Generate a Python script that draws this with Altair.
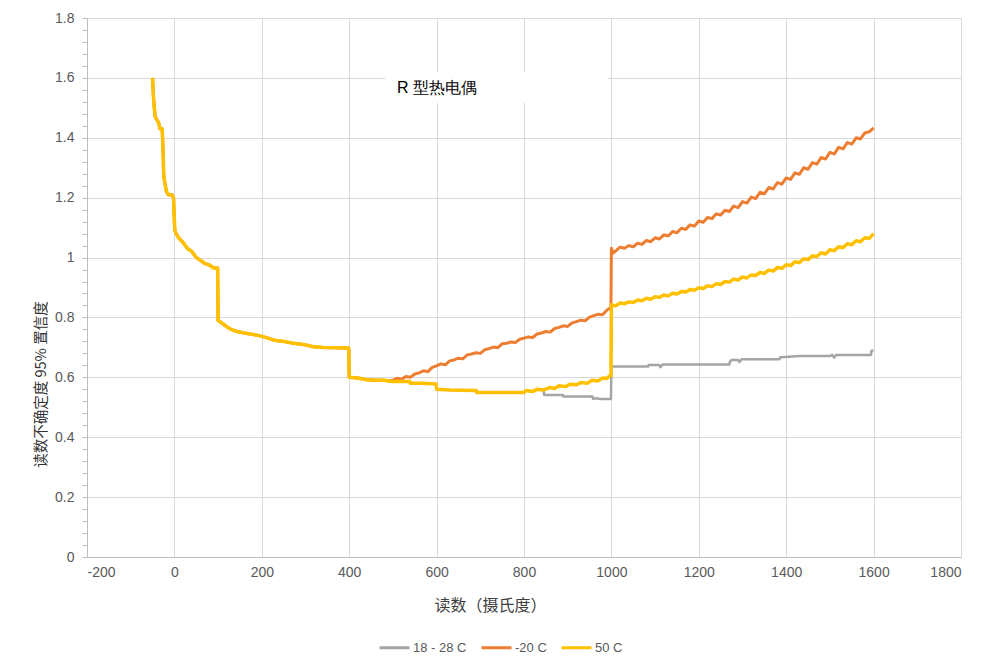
import altair as alt
import pandas as pd

# ---- data ----
# shared segment (all three series coincide)
common_x = [-50, -49, -48, -46, -44, -40, -36, -33, -28, -26, -25, -24, -22, -18, -14, -6, -2,
            0, 1, 4, 10, 20, 30, 40, 50, 60, 70, 80, 90, 99,
            100, 105, 120, 130, 143, 160, 188, 205, 226, 250, 272, 295, 318, 340, 370, 399,
            400, 420, 440, 460, 480, 490]
common_y = [1.60, 1.57, 1.54, 1.50, 1.47, 1.46, 1.45, 1.43, 1.43, 1.36, 1.30, 1.27, 1.25, 1.22, 1.21, 1.21, 1.20,
            1.12, 1.09, 1.08, 1.065, 1.05, 1.03, 1.02, 1.00, 0.99, 0.98, 0.975, 0.965, 0.965,
            0.79, 0.785, 0.769, 0.76, 0.753, 0.748, 0.741, 0.735, 0.725, 0.72, 0.714, 0.71, 0.702, 0.70, 0.699, 0.698,
            0.60, 0.598, 0.592, 0.59, 0.59, 0.588]

# segment shared by 18-28 C and 50 C
mid_x = [500, 520, 539, 540, 570, 599, 600, 630, 660, 691, 692, 720, 760, 800, 805, 820, 830, 845]
mid_y = [0.586, 0.586, 0.586, 0.58, 0.58, 0.578, 0.56, 0.558, 0.557, 0.556, 0.549, 0.549, 0.549, 0.549, 0.556, 0.553, 0.560, 0.558]

yellow_tail_x = [860, 870, 880, 895, 905, 920, 930, 945, 955, 970, 980, 990, 995, 999,
                 1000, 1010, 1020, 1030, 1040, 1050, 1060, 1070, 1080, 1090, 1100, 1110, 1120, 1130,
                 1140, 1150, 1160, 1170, 1180, 1190, 1200, 1210, 1220, 1230, 1240, 1250, 1260, 1270,
                 1280, 1290, 1300, 1310, 1320, 1330, 1340, 1350, 1360, 1370, 1380, 1390, 1400, 1410,
                 1420, 1430, 1440, 1450, 1460, 1470, 1480, 1490, 1500, 1510, 1520, 1530, 1540, 1550,
                 1560, 1570, 1580, 1590, 1600]
yellow_tail_y = [0.566, 0.563, 0.572, 0.569, 0.577, 0.575, 0.583, 0.580, 0.590, 0.588, 0.598, 0.596, 0.604, 0.605,
                 0.842, 0.839, 0.848, 0.846, 0.852, 0.850, 0.858, 0.856, 0.864, 0.861, 0.869, 0.867, 0.875, 0.872,
                 0.881, 0.878, 0.887, 0.885, 0.893, 0.891, 0.899, 0.897, 0.906, 0.903, 0.913, 0.910, 0.920, 0.918,
                 0.928, 0.925, 0.935, 0.932, 0.942, 0.940, 0.950, 0.947, 0.958, 0.955, 0.967, 0.964, 0.976, 0.973,
                 0.986, 0.983, 0.996, 0.993, 1.006, 1.003, 1.016, 1.012, 1.026, 1.023, 1.036, 1.033, 1.046, 1.043,
                 1.056, 1.053, 1.066, 1.064, 1.080]

gray_tail_x = [846, 880, 889, 890, 957, 958, 965, 975, 999,
               1000, 1084, 1085, 1110, 1112, 1118, 1270, 1271, 1275, 1290, 1293, 1298, 1385, 1386, 1390,
               1430, 1500, 1505, 1510, 1514, 1594, 1595, 1600]
gray_tail_y = [0.541, 0.541, 0.541, 0.536, 0.536, 0.528, 0.530, 0.528, 0.528,
               0.636, 0.636, 0.641, 0.641, 0.634, 0.643, 0.643, 0.652, 0.658, 0.658, 0.651, 0.660, 0.660, 0.667, 0.667,
               0.671, 0.671, 0.675, 0.666, 0.675, 0.675, 0.689, 0.690]

orange_tail_x = [500, 510, 520, 530, 540, 550, 560, 570, 580, 590, 600, 610, 620, 630, 640, 650, 660, 670,
                 680, 690, 700, 710, 720, 730, 740, 750, 760, 770, 780, 790, 800, 810, 820, 830, 840, 850,
                 860, 870, 880, 890, 900, 910, 920, 930, 940, 950, 960, 970, 980, 990, 999,
                 1000, 1004, 1020, 1030, 1040, 1050, 1060, 1070, 1080, 1090, 1100, 1110, 1120, 1130,
                 1140, 1150, 1160, 1170, 1180, 1190, 1200, 1210, 1220, 1230, 1240, 1250, 1260, 1270,
                 1280, 1290, 1300, 1310, 1320, 1330, 1340, 1350, 1360, 1370, 1380, 1390, 1400, 1410,
                 1420, 1430, 1440, 1450, 1460, 1470, 1480, 1490, 1500, 1510, 1520, 1530, 1540, 1550,
                 1560, 1570, 1580, 1590, 1600]
orange_tail_y = [0.590, 0.597, 0.594, 0.603, 0.600, 0.611, 0.615, 0.622, 0.619, 0.633, 0.638, 0.645, 0.642,
                 0.655, 0.658, 0.664, 0.662, 0.675, 0.678, 0.682, 0.680, 0.692, 0.696, 0.701, 0.699, 0.712,
                 0.714, 0.718, 0.716, 0.727, 0.731, 0.735, 0.733, 0.745, 0.748, 0.753, 0.751, 0.763, 0.767,
                 0.772, 0.770, 0.782, 0.786, 0.791, 0.789, 0.801, 0.806, 0.811, 0.809, 0.825, 0.833,
                 1.031, 1.015, 1.035, 1.031, 1.040, 1.036, 1.048, 1.044, 1.057, 1.053, 1.066, 1.062, 1.076, 1.072,
                 1.087, 1.083, 1.098, 1.094, 1.109, 1.105, 1.122, 1.118, 1.134, 1.130, 1.146, 1.142, 1.158, 1.154,
                 1.172, 1.167, 1.187, 1.182, 1.202, 1.197, 1.218, 1.213, 1.234, 1.229, 1.250, 1.245, 1.266, 1.261,
                 1.283, 1.278, 1.300, 1.295, 1.317, 1.312, 1.334, 1.329, 1.351, 1.346, 1.368, 1.363, 1.384, 1.379,
                 1.400, 1.396, 1.416, 1.420, 1.433]

series_names = ["18 - 28 C", "-20 C", "50 C"]
series_colors = ["#A5A5A5", "#ED7D31", "#FFC000"]

# ---- build table ----
def frame(name, xs, ys):
    return pd.DataFrame({"x": xs, "y": ys, "series": name})

df = pd.concat([
    frame(series_names[0], common_x + mid_x + gray_tail_x, common_y + mid_y + gray_tail_y),
    frame(series_names[1], common_x + orange_tail_x, common_y + orange_tail_y),
    frame(series_names[2], common_x + mid_x + yellow_tail_x, common_y + mid_y + yellow_tail_y),
], ignore_index=True)

y_ticks = [round(i * 0.04, 2) for i in range(46)]
major_test = "abs(datum.value*5 - round(datum.value*5)) < 0.001"

x_enc = alt.X("x:Q", scale=alt.Scale(domain=[-200, 1800], nice=False),
              axis=alt.Axis(values=list(range(-200, 1801, 200)), title="读数（摄氏度）",
                            labelExpr="datum.value + ''", tickSize=0, labelPadding=8,
                            labelFontSize=14, labelFont="Liberation Sans", labelColor="#595959",
                            gridColor="#D9D9D9", domainColor="#BFBFBF",
                            titleX=403, titleY=48, titleBaseline="middle", titleAlign="center",
                            titleFontSize=16, titleFontWeight="normal", titleColor="#404040",
                            titleFont="Noto Sans CJK SC"))
y_enc = alt.Y("y:Q", scale=alt.Scale(domain=[0, 1.8], nice=False),
              axis=alt.Axis(values=y_ticks, title="读数不确定度 95% 置信度",
                            labelExpr=f"{major_test} ? (round(datum.value*10)/10 + '') : ''",
                            gridOpacity={"condition": {"test": major_test, "value": 1}, "value": 0},
                            tickSize=5, labelPadding=8,
                            labelFontSize=14, labelFont="Liberation Sans", labelColor="#595959",
                            gridColor="#D9D9D9", domainColor="#BFBFBF", tickColor="#BFBFBF",
                            titleX=-46, titleY=366, titleAngle=270, titleBaseline="middle",
                            titleAlign="center", titleFontSize=14.5, titleFontWeight="normal",
                            titleColor="#333333", titleFont="Noto Sans CJK SC"))
color_enc = alt.Color("series:N", scale=alt.Scale(domain=series_names, range=series_colors),
                      legend=alt.Legend(title=None, orient="none", direction="horizontal",
                                        legendX=291, legendY=613, symbolType="stroke",
                                        symbolSize=900, symbolStrokeWidth=3, columnPadding=8,
                                        labelOffset=2, labelFontSize=13, labelColor="#595959",
                                        labelFont="Liberation Sans"))

widths = [2.5, 3, 3.5]
layers = []
for name, w in zip(series_names, widths):
    layers.append(
        alt.Chart(df).transform_filter(alt.datum.series == name)
        .mark_line(interpolate="linear", strokeWidth=w, strokeJoin="round")
        .encode(x=x_enc, y=y_enc, color=color_enc, order="x:Q")
    )

label_box = alt.Chart(pd.DataFrame({"t": ["R 型热电偶"]})).mark_rect(color="white").encode(
    x=alt.value(298), x2=alt.value(521), y=alt.value(54), y2=alt.value(85))
label_text = alt.Chart(pd.DataFrame({"t": ["R 型热电偶"]})).mark_text(
    align="left", baseline="middle", fontSize=16, color="#000000", font="Liberation Sans"
).encode(text="t:N", x=alt.value(310), y=alt.value(70))

chart = alt.layer(*layers, label_box, label_text).properties(
    width=874, height=539,
    autosize=alt.AutoSizeParams(type="none"),
    padding={"left": 79, "top": 10, "right": 13, "bottom": 105},
).configure_view(stroke=None).configure(background="white")

chart.save("out.html", embed_options={"renderer": "svg", "actions": False})
